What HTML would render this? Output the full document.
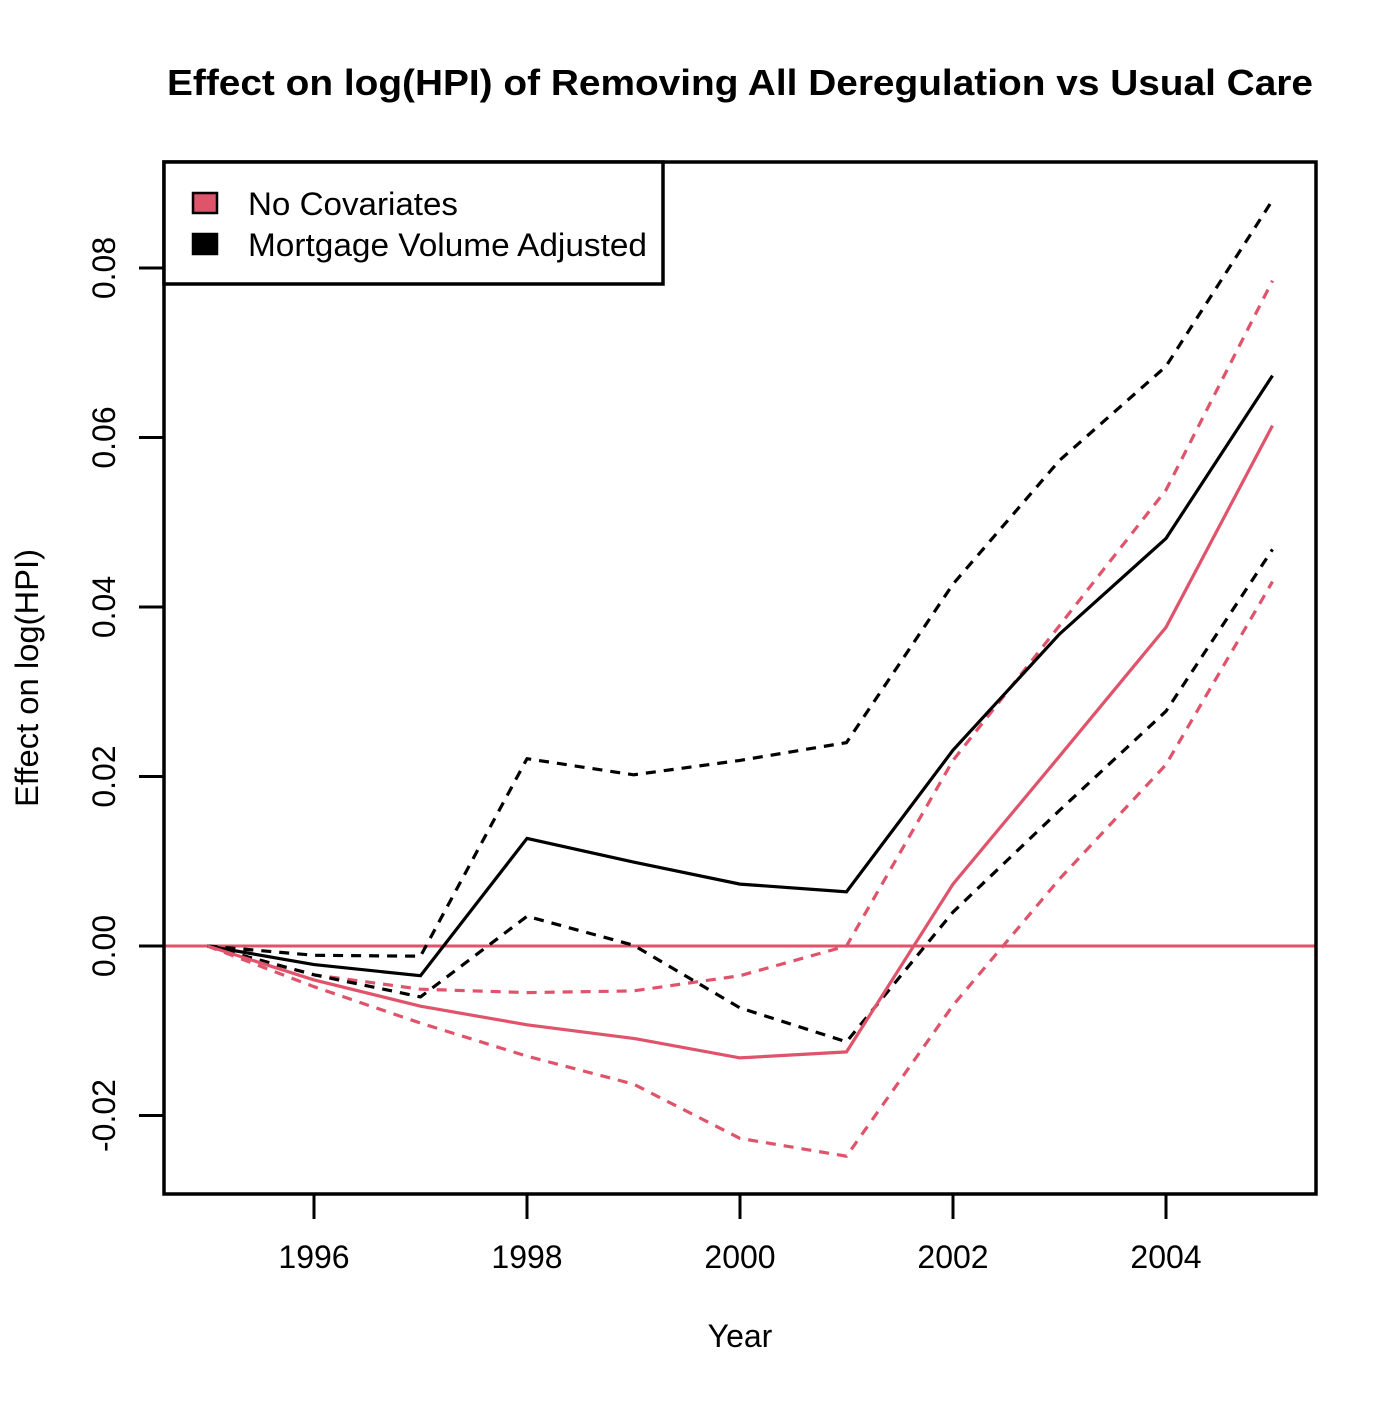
<!DOCTYPE html>
<html><head><meta charset="utf-8"><style>
body{margin:0;background:#fff}
svg text{font-family:"Liberation Sans",Arial,sans-serif}
</style></head><body>
<svg id="chart" width="1400" height="1400" viewBox="0 0 1400 1400" xmlns="http://www.w3.org/2000/svg">
<rect width="1400" height="1400" fill="#fff"/>
<text x="167" y="95" font-size="36" font-weight="bold" textLength="1146" lengthAdjust="spacingAndGlyphs">Effect on log(HPI) of Removing All Deregulation vs Usual Care</text>
<g id="series"></g>
<g id="axes"></g>
<rect x="164" y="162" width="1152" height="1032" fill="none" stroke="#000" stroke-width="3.5"/>
<g>
<rect x="164" y="162" width="499" height="122" fill="#fff" stroke="#000" stroke-width="3.5"/>
<rect x="193" y="193" width="24" height="20" fill="#DF536B" stroke="#000" stroke-width="2.5"/>
<text x="248" y="215" font-size="32" textLength="210" lengthAdjust="spacingAndGlyphs">No Covariates</text>
<rect x="193" y="234" width="24" height="20" fill="#000" stroke="#000" stroke-width="2.5"/>
<text x="248" y="256" font-size="32" textLength="399" lengthAdjust="spacingAndGlyphs">Mortgage Volume Adjusted</text>
</g>
<text x="740" y="1347" font-size="32" text-anchor="middle">Year</text>
<text transform="translate(38,678) rotate(-90)" font-size="32" text-anchor="middle" textLength="258" lengthAdjust="spacingAndGlyphs">Effect on log(HPI)</text>
</svg>
<script>
const years=[1995,1996,1997,1998,1999,2000,2001,2002,2003,2004,2005];
const blackEst=[0,-0.0022,-0.0035,0.0127,0.0099,0.0073,0.0064,0.0231,0.0368,0.0481,0.0673];
const blackUpper=[0,-0.0011,-0.0012,0.0221,0.0202,0.0219,0.0240,0.0427,0.0573,0.0684,0.0880];
const blackLower=[0,-0.0034,-0.0060,0.0035,0.0001,-0.0073,-0.0113,0.0040,0.0160,0.0277,0.0468];
const redEst=[0,-0.0040,-0.0071,-0.0093,-0.0109,-0.0132,-0.0125,0.0073,0.0224,0.0376,0.0614];
const redUpper=[0,-0.0034,-0.0051,-0.0055,-0.0053,-0.0035,0,0.0219,0.0378,0.0538,0.0785];
const redLower=[0,-0.0048,-0.0091,-0.0130,-0.0163,-0.0227,-0.0248,-0.0070,0.0079,0.0214,0.0430];
const xTicks=[1996,1998,2000,2002,2004];
const yTicks=[-0.02,0,0.02,0.04,0.06,0.08];
const yTickLabels=["-0.02","0.00","0.02","0.04","0.06","0.08"];

const NS="http://www.w3.org/2000/svg";
function xs(v){return 207.5+(v-1995)*106.5;}
function ys(v){return 946-v*8475;}
const sg=document.getElementById('series');
const ag=document.getElementById('axes');
function mk(tag,attrs,parent){const e=document.createElementNS(NS,tag);for(const k in attrs)e.setAttribute(k,attrs[k]);parent.appendChild(e);return e;}
const RED="#DF536B";
const zl=mk('line',{x1:164,x2:1316,y1:ys(0),y2:ys(0),stroke:RED,'stroke-width':3},sg);


function line(vals,color,dashed,name){
  const d=vals.map((v,i)=>(i?'L':'M')+xs(years[i]).toFixed(1)+','+ys(v).toFixed(1)).join(' ');
  const p=mk('path',{d:d,fill:'none',stroke:color,'stroke-width':3.2},sg);
  if(dashed)p.setAttribute('stroke-dasharray','10,8');
  
  
}
line(redLower,RED,true,'no-covariates-lower-ci');
line(redUpper,RED,true,'no-covariates-upper-ci');
line(blackLower,'#000',true,'mortgage-volume-lower-ci');
line(blackUpper,'#000',true,'mortgage-volume-upper-ci');
line(blackEst,'#000',false,'mortgage-volume-estimate');
line(redEst,RED,false,'no-covariates-estimate');

const xa=mk('line',{x1:xs(xTicks[0]),x2:xs(xTicks[xTicks.length-1]),y1:1194,y2:1194,stroke:'#000','stroke-width':3},ag);


xTicks.forEach(t=>{
  const l=mk('line',{x1:xs(t),x2:xs(t),y1:1194,y2:1219,stroke:'#000','stroke-width':3},ag);
  
  
  const tx=mk('text',{x:xs(t),y:1268,'font-size':32,'text-anchor':'middle'},ag);
  tx.textContent=t;
  
  
});
yTicks.forEach((t,i)=>{
  const l=mk('line',{x1:139,x2:164,y1:ys(t),y2:ys(t),stroke:'#000','stroke-width':3},ag);
  
  
  const tx=mk('text',{transform:'translate(115,'+ys(t)+') rotate(-90)','font-size':32,'text-anchor':'middle'},ag);
  tx.textContent=yTickLabels[i];
  
  
});
</script>
</body></html>
